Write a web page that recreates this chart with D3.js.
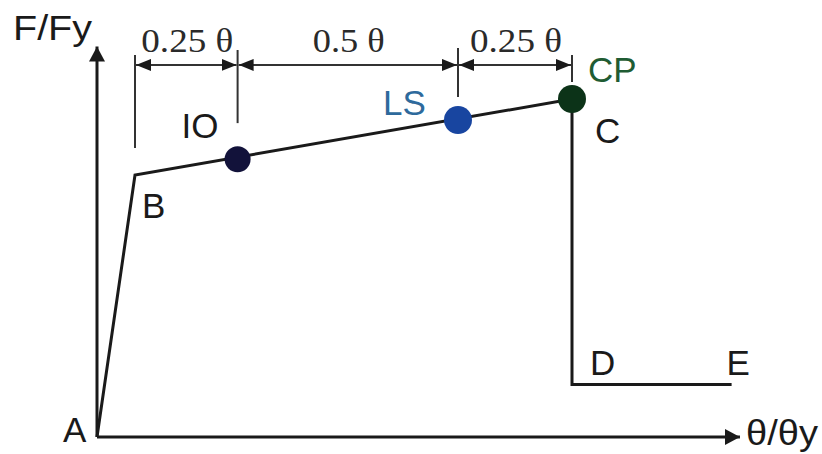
<!DOCTYPE html>
<html>
<head>
<meta charset="utf-8">
<script src="https://cdn.jsdelivr.net/npm/d3@7"></script>
<style>
  html, body { margin: 0; padding: 0; background: #fff; }
  svg { display: block; }
</style>
</head>
<body>
<svg id="chart" width="822" height="454"></svg>
<script>
// backbone curve points A-B-C-D-E (x = θ/θy, y = F/Fy)
const curveNames = ["A", "B", "C", "D", "E"];
const curveX = [0, 1, 12.5, 12.5, 16.7];
const curveY = [0, 1, 1.29, 0.2, 0.2];

// performance levels on the B-C branch
const levelNames = ["IO", "LS", "CP"];
const levelX = [3.7, 9.5, 12.5];
const levelY = [1.06, 1.21, 1.29];
const levelFill = ["#12123a", "#1845a0", "#0c3318"];
const levelText = ["#1a1a1a", "#2e6a9c", "#1f5c33"];

// dimension chain above the curve
const dimX = [1, 3.7, 9.5, 12.5];
const dimLabels = ["0.25 θ", "0.5 θ", "0.25 θ"];
const dimY = 1.42;
const extTop = [1.458, 1.477, 1.485, 1.458];
const extBottom = [1.103, 1.198, 1.298, 1.355];

// axis extents
const axisMaxX = 16.92;
const axisMaxY = 1.49;

const svg = d3.select("#chart");
const x = d3.scaleLinear().domain([0, 17]).range([97, 743]);
const y = d3.scaleLinear().domain([0, 1.5]).range([437, 44]);

const sans = "'Liberation Sans', Arial, sans-serif";
const serif = "'Liberation Serif', 'Times New Roman', serif";
const ink = "#1a1a1a";

const defs = svg.append("defs");
function marker(id, len, half) {
    defs.append("marker")
        .attr("id", id)
        .attr("viewBox", `0 ${-half} ${len} ${half * 2}`)
        .attr("refX", len).attr("refY", 0)
        .attr("markerWidth", len).attr("markerHeight", half * 2)
        .attr("markerUnits", "userSpaceOnUse")
        .attr("orient", "auto-start-reverse")
        .append("path")
        .attr("d", `M0,${-half}L${len},0L0,${half}Z`)
        .attr("fill", ink);
}
marker("axisArrow", 15, 8);
marker("dimArrow", 15, 6);

// axes
svg.append("line")
    .attr("x1", x(0)).attr("y1", y(0))
    .attr("x2", x(axisMaxX)).attr("y2", y(0))
    .attr("stroke", ink).attr("stroke-width", 3)
    .attr("marker-end", "url(#axisArrow)");
svg.append("line")
    .attr("x1", x(0)).attr("y1", y(0))
    .attr("x2", x(0)).attr("y2", y(axisMaxY))
    .attr("stroke", ink).attr("stroke-width", 3)
    .attr("marker-end", "url(#axisArrow)");

// backbone curve
const pts = curveX.map((d, i) => [d, curveY[i]]);
svg.append("path")
    .attr("d", d3.line().x(d => x(d[0])).y(d => y(d[1]))(pts))
    .attr("fill", "none")
    .attr("stroke", ink)
    .attr("stroke-width", 3)
    .attr("stroke-linejoin", "miter");

// extension lines
svg.append("g")
    .selectAll("line")
    .data(dimX)
    .join("line")
    .attr("x1", d => x(d)).attr("x2", d => x(d))
    .attr("y1", (d, i) => y(extTop[i]))
    .attr("y2", (d, i) => y(extBottom[i]))
    .attr("stroke", "#333").attr("stroke-width", 2);

// dimension segments with arrows at both ends
const segs = d3.pairs(dimX);
svg.append("g")
    .selectAll("line")
    .data(segs)
    .join("line")
    .attr("x1", d => x(d[0]) + 1).attr("x2", d => x(d[1]) - 1)
    .attr("y1", y(dimY)).attr("y2", y(dimY))
    .attr("stroke", "#333").attr("stroke-width", 2)
    .attr("marker-start", "url(#dimArrow)")
    .attr("marker-end", "url(#dimArrow)");

svg.append("g")
    .selectAll("text")
    .data(segs)
    .join("text")
    .attr("x", d => (x(d[0]) + x(d[1])) / 2 + 1)
    .attr("y", y(dimY) - 13)
    .attr("text-anchor", "middle")
    .attr("font-family", serif)
    .attr("font-size", 34)
    .attr("fill", "#2a2a2a")
    .attr("textLength", (d, i) => i === 1 ? 72 : 92)
    .attr("lengthAdjust", "spacingAndGlyphs")
    .text((d, i) => dimLabels[i]);

// performance level points
svg.append("g")
    .selectAll("circle")
    .data(levelX)
    .join("circle")
    .attr("cx", d => x(d))
    .attr("cy", (d, i) => y(levelY[i]))
    .attr("r", (d, i) => i === 0 ? 13 : 14)
    .attr("fill", (d, i) => levelFill[i]);

// level labels (offsets from their point)
const levelOffset = [[-56, -21], [-75, -5], [16, -17]];
svg.append("g")
    .selectAll("text")
    .data(levelNames)
    .join("text")
    .attr("x", (d, i) => x(levelX[i]) + levelOffset[i][0])
    .attr("y", (d, i) => y(levelY[i]) + levelOffset[i][1])
    .attr("font-family", sans)
    .attr("font-size", 35)
    .attr("fill", (d, i) => levelText[i])
    .text(d => d);

// curve point labels
const curveOffset = [[-34, 5], [7, 43], [23, 44], [18, -10], [-5, -10]];
svg.append("g")
    .selectAll("text")
    .data(curveNames)
    .join("text")
    .attr("x", (d, i) => x(curveX[i]) + curveOffset[i][0])
    .attr("y", (d, i) => y(curveY[i]) + curveOffset[i][1])
    .attr("font-family", sans)
    .attr("font-size", 35)
    .attr("fill", ink)
    .text(d => d);

// axis titles
svg.append("text")
    .attr("x", 13).attr("y", 40)
    .attr("font-family", sans).attr("font-size", 35)
    .attr("fill", ink)
    .attr("textLength", 79).attr("lengthAdjust", "spacingAndGlyphs")
    .text("F/Fy");
svg.append("text")
    .attr("x", 746).attr("y", 445)
    .attr("font-family", sans).attr("font-size", 35)
    .attr("fill", ink)
    .attr("textLength", 72).attr("lengthAdjust", "spacingAndGlyphs")
    .text("θ/θy");
</script>
</body>
</html>
